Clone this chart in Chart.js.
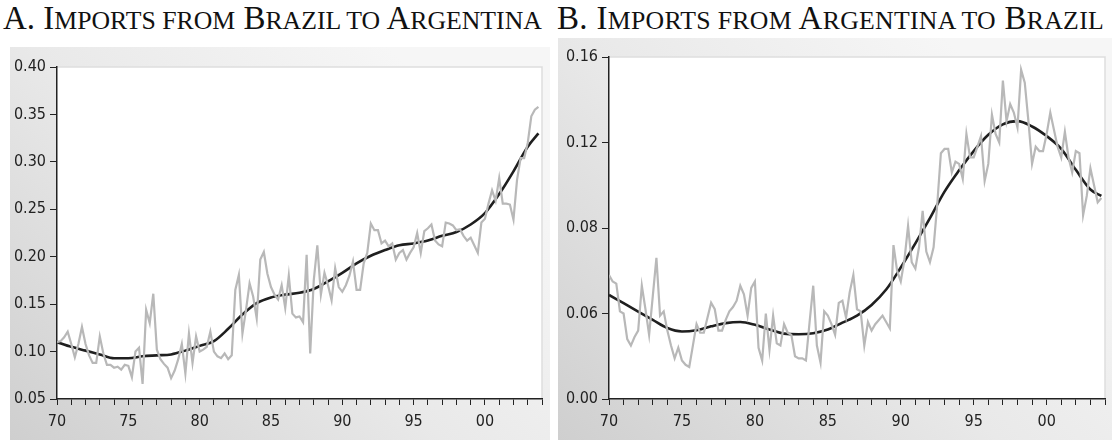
<!DOCTYPE html>
<html>
<head>
<meta charset="utf-8">
<script src="https://cdn.jsdelivr.net/npm/chart.js@4.4.1/dist/chart.umd.min.js"></script>
<style>
  html, body { margin: 0; padding: 0; background: #fff; }
  body { width: 1112px; height: 440px; position: relative; overflow: hidden; }
  .title {
    position: absolute;
    font-family: 'Liberation Serif', 'Times New Roman', serif;
    font-size: 33px;
    line-height: 1;
    color: #111;
    white-space: nowrap;
  }
  .title .sc { font-size: 0.78em; text-transform: uppercase; }
  .panel { position: absolute; }
  .panel canvas { display: block; }
</style>
</head>
<body>
<div class="title" style="left:3px; top:2px; letter-spacing:0px;">A. I<span class="sc">mports from</span> B<span class="sc">razil to</span> A<span class="sc">rgentina</span></div>
<div class="title" style="left:557px; top:2px; letter-spacing:0.3px;">B. I<span class="sc">mports from</span> A<span class="sc">rgentina to</span> B<span class="sc">razil</span></div>

<div class="panel" style="left:10px; top:47px; width:540px; height:393px;">
  <canvas id="chartA" width="540" height="393"></canvas>
</div>
<div class="panel" style="left:558px; top:38px; width:554px; height:402px;">
  <canvas id="chartB" width="554" height="402"></canvas>
</div>

<script>
// Quarterly observations start in the first quarter of this year
const START_YEAR = 1970;

// Panel A: imports from Brazil to Argentina (quarterly share) and its trend
const importsBrToAr = [
  0.110, 0.111, 0.115, 0.121,  0.108, 0.094, 0.108, 0.126,
  0.108, 0.096, 0.088, 0.088,  0.116, 0.098, 0.086, 0.086,
  0.083, 0.084, 0.081, 0.086,  0.085, 0.073, 0.100, 0.104,
  0.066, 0.144, 0.130, 0.161,  0.102, 0.092, 0.087, 0.083,
  0.072, 0.080, 0.092, 0.108,  0.077, 0.119, 0.088, 0.116,
  0.100, 0.102, 0.105, 0.121,  0.100, 0.095, 0.093, 0.098,
  0.092, 0.096, 0.165, 0.181,  0.119, 0.144, 0.172, 0.158,
  0.135, 0.197, 0.205, 0.182,  0.168, 0.160, 0.155, 0.170,
  0.146, 0.180, 0.140, 0.136,  0.137, 0.131, 0.202, 0.098,
  0.175, 0.212, 0.160, 0.183,  0.170, 0.154, 0.188, 0.168,
  0.163, 0.170, 0.180, 0.195,  0.165, 0.165, 0.193, 0.204,
  0.235, 0.228, 0.228, 0.214,  0.217, 0.211, 0.214, 0.197,
  0.204, 0.207, 0.197, 0.204,  0.210, 0.225, 0.204, 0.227,
  0.230, 0.234, 0.217, 0.213,  0.211, 0.236, 0.235, 0.233,
  0.228, 0.229, 0.222, 0.217,  0.220, 0.212, 0.204, 0.236,
  0.240, 0.256, 0.270, 0.259,  0.283, 0.256, 0.256, 0.255,
  0.239, 0.281, 0.304, 0.304,  0.320, 0.348, 0.355, 0.358
];
const trendYearsA = [1970, 1971, 1972, 1973, 1974, 1975, 1976, 1977, 1978, 1979,
  1980, 1981, 1982, 1983, 1984, 1985, 1986, 1987, 1988, 1989,
  1990, 1991, 1992, 1993, 1994, 1995, 1996, 1997, 1998, 1999,
  2000, 2001, 2002, 2003, 2003.75];
const trendBrToAr = [0.110, 0.105, 0.101, 0.097, 0.093, 0.093, 0.095, 0.096, 0.097, 0.101,
  0.106, 0.111, 0.124, 0.139, 0.151, 0.157, 0.160, 0.162, 0.166, 0.174,
  0.183, 0.193, 0.201, 0.207, 0.212, 0.214, 0.217, 0.222, 0.226, 0.234,
  0.246, 0.266, 0.290, 0.316, 0.330];

// Panel B: imports from Argentina to Brazil (quarterly share) and its trend
const importsArToBr = [
  0.058, 0.055, 0.054, 0.041,  0.040, 0.028, 0.025, 0.029,
  0.032, 0.053, 0.042, 0.030,  0.048, 0.066, 0.039, 0.041,
  0.032, 0.025, 0.019, 0.024,  0.018, 0.016, 0.015, 0.025,
  0.035, 0.031, 0.031, 0.038,  0.045, 0.042, 0.032, 0.032,
  0.037, 0.041, 0.043, 0.046,  0.053, 0.049, 0.039, 0.052,
  0.055, 0.024, 0.018, 0.040,  0.023, 0.039, 0.026, 0.025,
  0.035, 0.031, 0.030, 0.020,  0.019, 0.019, 0.018, 0.036,
  0.053, 0.025, 0.017, 0.041,  0.039, 0.035, 0.030, 0.045,
  0.046, 0.038, 0.050, 0.058,  0.042, 0.041, 0.025, 0.036,
  0.032, 0.035, 0.037, 0.039,  0.036, 0.033, 0.072, 0.060,
  0.055, 0.065, 0.081, 0.064,  0.061, 0.071, 0.088, 0.069,
  0.064, 0.071, 0.091, 0.115,  0.117, 0.117, 0.106, 0.111,
  0.110, 0.103, 0.124, 0.113,  0.113, 0.118, 0.123, 0.102,
  0.110, 0.133, 0.124, 0.120,  0.149, 0.130, 0.138, 0.134,
  0.127, 0.154, 0.148, 0.130,  0.110, 0.118, 0.116, 0.116,
  0.124, 0.134, 0.126, 0.118,  0.113, 0.125, 0.113, 0.106,
  0.116, 0.115, 0.086, 0.095,  0.108, 0.100, 0.092, 0.094
];
const trendYearsB = trendYearsA;
const trendArToBr = [0.0487, 0.0448, 0.0409, 0.0370, 0.0332, 0.0316, 0.0322, 0.0340, 0.0355, 0.0360,
  0.0347, 0.0325, 0.0306, 0.0303, 0.0308, 0.0325, 0.0357, 0.0390, 0.0440, 0.0512,
  0.0615, 0.0728, 0.0846, 0.0970, 0.1070, 0.1160, 0.1236, 0.1285, 0.1300, 0.1275,
  0.1230, 0.1170, 0.1072, 0.0980, 0.0950];

// Axis tick labels
const xTickYears  = [1970, 1975, 1980, 1985, 1990, 1995, 2000];
const xTickLabels = ['70', '75', '80', '85', '90', '95', '00'];
const yTickValuesA = [0.05, 0.10, 0.15, 0.20, 0.25, 0.30, 0.35, 0.40];
const yTickLabelsA = ['0.05', '0.10', '0.15', '0.20', '0.25', '0.30', '0.35', '0.40'];
const yTickValuesB = [0.00, 0.04, 0.08, 0.12, 0.16];
const yTickLabelsB = ['0.00', '0.06', '0.08', '0.12', '0.16'];

const X_MIN = 1970, X_MAX = 2004;

const toQuarterPoints = (vals) => vals.map((v, i) => ({ x: START_YEAR + i / 4, y: v }));
const toPoints = (xs, ys) => ys.map((v, i) => ({ x: xs[i], y: v }));

const TICK_FONT = { family: "'Liberation Sans Narrow', 'DejaVu Sans Condensed', 'Arial Narrow', sans-serif", size: 16 };
const AXIS_INK = '#222222';

// Grey panel background, white plotting area with a faint frame
const panelBackground = {
  id: 'panelBackground',
  beforeDraw(chart) {
    const { ctx, width, height, chartArea: a } = chart;
    ctx.save();
    const g = ctx.createLinearGradient(0, height, width * 0.7, 0);
    g.addColorStop(0, '#cfcfcf');
    g.addColorStop(0.55, '#e9e9e9');
    g.addColorStop(1, '#f6f6f6');
    ctx.fillStyle = g;
    ctx.fillRect(0, 0, width, height);
    ctx.fillStyle = '#ffffff';
    ctx.fillRect(a.left, a.top, a.right - a.left, a.bottom - a.top);
    ctx.strokeStyle = '#dedede';
    ctx.lineWidth = 1.5;
    ctx.beginPath();
    ctx.moveTo(a.left, a.top);
    ctx.lineTo(a.right, a.top);
    ctx.lineTo(a.right, a.bottom);
    ctx.stroke();
    ctx.restore();
  }
};

function makeChart(canvasId, quarterly, trendX, trendY, yMin, yMax, yVals, yLabels, fit) {
  return new Chart(document.getElementById(canvasId), {
    type: 'line',
    data: {
      datasets: [
        {
          data: toQuarterPoints(quarterly),
          borderColor: '#b8b8b8',
          borderWidth: 2.2,
          pointRadius: 0,
          tension: 0
        },
        {
          data: toPoints(trendX, trendY),
          borderColor: '#1f1f1f',
          borderWidth: 2.6,
          pointRadius: 0,
          cubicInterpolationMode: 'monotone'
        }
      ]
    },
    options: {
      responsive: false,
      animation: false,
      devicePixelRatio: 1,
      layout: { padding: { left: 0, top: fit.top, right: fit.right, bottom: 0 } },
      plugins: { legend: { display: false }, tooltip: { enabled: false } },
      scales: {
        x: {
          type: 'linear',
          min: X_MIN,
          max: X_MAX,
          afterBuildTicks(scale) {
            const t = [];
            for (let y = X_MIN; y <= X_MAX; y++) t.push({ value: y });
            scale.ticks = t;
          },
          afterFit(scale) { scale.height = fit.xHeight; },
          ticks: {
            autoSkip: false,
            maxRotation: 0,
            padding: 7,
            color: AXIS_INK,
            font: TICK_FONT,
            callback(v) {
              const i = xTickYears.indexOf(Math.round(v));
              return (i >= 0 && Math.abs(v - xTickYears[i]) < 1e-6) ? xTickLabels[i] : '';
            }
          },
          grid: { drawOnChartArea: false, drawTicks: true, tickLength: 6, color: AXIS_INK, lineWidth: 1 },
          border: { display: true, color: AXIS_INK, width: 1.5 }
        },
        y: {
          min: yMin,
          max: yMax,
          afterBuildTicks(scale) { scale.ticks = yVals.map(v => ({ value: v })); },
          afterFit(scale) { scale.width = fit.yWidth; },
          ticks: {
            padding: 4,
            color: AXIS_INK,
            font: TICK_FONT,
            callback(v) {
              const i = yVals.findIndex(t => Math.abs(t - v) < 1e-9);
              return i >= 0 ? yLabels[i] : '';
            }
          },
          grid: { drawOnChartArea: false, drawTicks: true, tickLength: 7, color: AXIS_INK, lineWidth: 1 },
          border: { display: true, color: AXIS_INK, width: 1.5 }
        }
      }
    },
    plugins: [panelBackground]
  });
}

makeChart('chartA', importsBrToAr, trendYearsA, trendBrToAr, 0.05, 0.40, yTickValuesA, yTickLabelsA,
  { top: 20, right: 8, xHeight: 41, yWidth: 47 });
makeChart('chartB', importsArToBr, trendYearsB, trendArToBr, 0.00, 0.16, yTickValuesB, yTickLabelsB,
  { top: 19, right: 6, xHeight: 41, yWidth: 51 });
</script>
</body>
</html>
